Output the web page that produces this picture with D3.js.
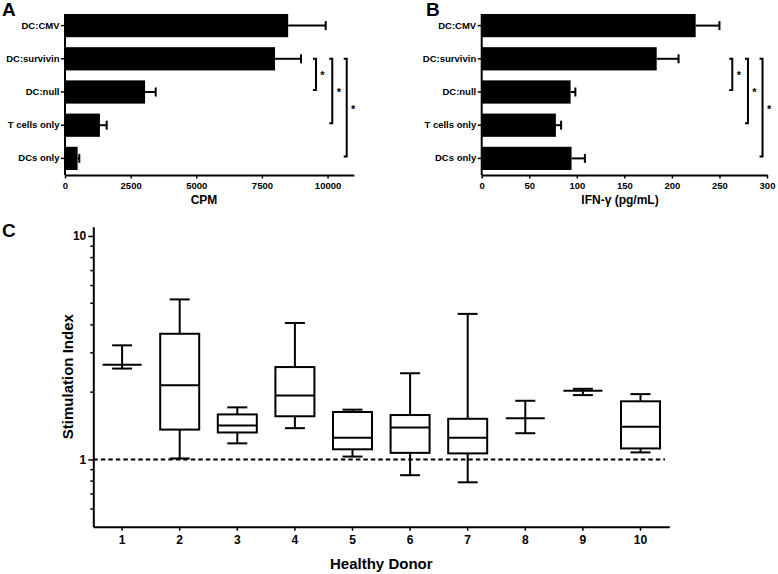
<!DOCTYPE html>
<html><head><meta charset="utf-8">
<script src="https://cdn.jsdelivr.net/npm/d3@7"></script>
<style>
body{margin:0;background:#fff}
text{font-family:"Liberation Sans",Arial,Helvetica,sans-serif;font-weight:bold;fill:#000}
</style>
</head><body>
<svg id="chart" width="778" height="574"></svg>
<script>
// ---------- Data ----------
const groups = ["DC:CMV", "DC:survivin", "DC:null", "T cells only", "DCs only"];
const cpmMean = [8500, 8000, 3050, 1330, 480];
const cpmSem = [1430, 990, 405, 258, 65];
const ifnMean = [225, 184, 93.5, 78, 94.5];
const ifnSem = [25, 23, 5, 5.5, 14];
const cpmTicks = [0, 2500, 5000, 7500, 10000];
const ifnTicks = [0, 50, 100, 150, 200, 250, 300];
// significance comparisons: from DC:survivin to each target
const sigTargets = ["DC:null", "T cells only", "DCs only"];

const donors = [1, 2, 3, 4, 5, 6, 7, 8, 9, 10];
const siMin    = [2.55, 1.01, 1.18, 1.38, 1.03, 0.85, 0.79, 1.31, 1.94, 1.075];
const siQ1     = [2.65, 1.36, 1.32, 1.56, 1.11, 1.07, 1.064, 1.53, 2.03, 1.12];
const siMedian = [2.65, 2.15, 1.42, 1.93, 1.25, 1.39, 1.25, 1.53, 2.03, 1.40];
const siQ3     = [2.65, 3.65, 1.59, 2.59, 1.63, 1.58, 1.52, 1.53, 2.03, 1.82];
const siMax    = [3.24, 5.2, 1.71, 4.08, 1.67, 2.43, 4.48, 1.83, 2.07, 1.96];
const siMajorTicks = [1, 10];
const siMinorTicks = [0.6, 0.7, 0.8, 0.9, 2, 3, 4, 5, 6, 7, 8, 9];

const svg = d3.select("#chart");
const LW = 2;

function styleAxis(g) {
  g.selectAll("path.domain").attr("stroke", "#000").attr("stroke-width", LW);
  g.selectAll(".tick line").attr("stroke", "#000").attr("stroke-width", 1.5);
  g.selectAll(".tick text").attr("fill", "#000");
}

// ---------- Bar panels ----------
function barPanel(opts) {
  const {x0, x1, domainMax, ticks, means, sems, title, titleX, letter, letterX, bracketVals} = opts;
  const y = d3.scaleBand().domain(groups).range([9, 175]).paddingInner(0.3).paddingOuter(0.15);
  const x = d3.scaleLinear().domain([0, domainMax]).range([x0, x1]);
  const g = svg.append("g");

  // bars
  g.selectAll("rect.bar").data(groups).join("rect")
    .attr("x", x(0)).attr("y", d => y(d))
    .attr("width", (d, i) => x(means[i]) - x(0))
    .attr("height", y.bandwidth()).attr("fill", "#000");

  // error bars
  const eb = g.selectAll("g.eb").data(groups).join("g");
  eb.append("line")
    .attr("x1", (d, i) => x(means[i])).attr("x2", (d, i) => x(means[i] + sems[i]))
    .attr("y1", d => y(d) + y.bandwidth() / 2).attr("y2", d => y(d) + y.bandwidth() / 2)
    .attr("stroke", "#000").attr("stroke-width", LW);
  eb.append("line")
    .attr("x1", (d, i) => x(means[i] + sems[i])).attr("x2", (d, i) => x(means[i] + sems[i]))
    .attr("y1", d => y(d) + y.bandwidth() / 2 - 4.5).attr("y2", d => y(d) + y.bandwidth() / 2 + 4.5)
    .attr("stroke", "#000").attr("stroke-width", LW);

  // x axis
  const xa = g.append("g").attr("transform", "translate(0,175)")
    .call(d3.axisBottom(x).tickValues(ticks).tickSize(3.5).tickSizeOuter(0).tickPadding(4).tickFormat(d3.format("d")));
  xa.selectAll("text").style("font-size", "9.5px");
  styleAxis(xa);

  // y axis
  const ya = g.append("g").attr("transform", `translate(${x0},0)`)
    .call(d3.axisLeft(y).tickSize(4).tickSizeOuter(0).tickPadding(1.5));
  ya.select("path.domain").attr("d", "M0,14V175");
  ya.selectAll("text").style("font-size", "9.5px");
  styleAxis(ya);

  // axis title
  g.append("text").attr("x", titleX).attr("y", 204).attr("text-anchor", "middle")
    .style("font-size", "12px").text(title);
  // panel letter
  svg.append("text").attr("x", letterX).attr("y", 15.5).style("font-size", "19px").text(letter);

  // significance brackets
  const yc = d => y(d) + y.bandwidth() / 2;
  sigTargets.forEach((t, i) => {
    const bx = x(bracketVals[i]);
    const yTop = yc("DC:survivin");
    const yBot = yc(t) - 2;
    g.append("path")
      .attr("d", `M${bx - 3},${yTop}H${bx}V${yBot}H${bx - 3}`)
      .attr("fill", "none").attr("stroke", "#000").attr("stroke-width", LW);
    g.append("text").attr("x", bx + 6.5).attr("y", (yTop + yBot) / 2 + 5)
      .attr("text-anchor", "middle").style("font-size", "11px").text("*");
  });
}

barPanel({x0: 65, x1: 353.8, domainMax: 11000, ticks: cpmTicks, means: cpmMean, sems: cpmSem,
  title: "CPM", titleX: 204, letter: "A", letterX: 2, bracketVals: [9560, 10180, 10730]});
barPanel({x0: 481.7, x1: 767, domainMax: 300, ticks: ifnTicks, means: ifnMean, sems: ifnSem,
  title: "IFN-γ (pg/mL)", titleX: 620, letter: "B", letterX: 426, bracketVals: [263.5, 280, 295.3]});

// ---------- Panel C: box plots ----------
const cx = d3.scaleBand().domain(donors).range([93.3, 669.3]).padding(0);
const cy = d3.scaleLog().domain([0.5, 11]).range([526.7, 226.7]);
const gc = svg.append("g");
const boxW = 39, capW = 20;

// dashed reference line at 1
gc.append("line").attr("x1", 93.3).attr("x2", 665).attr("y1", cy(1)).attr("y2", cy(1))
  .attr("stroke", "#000").attr("stroke-width", LW).attr("stroke-dasharray", "4.5,3");

const boxes = gc.selectAll("g.box").data(donors).join("g");
const ctr = d => cx(d) + cx.bandwidth() / 2;
boxes.each(function (d, i) {
  const b = d3.select(this);
  const c = ctr(d);
  const st = s => s.attr("stroke", "#000").attr("stroke-width", LW).attr("fill", "none");
  // whiskers
  b.append("line").attr("x1", c).attr("x2", c).attr("y1", cy(siQ3[i])).attr("y2", cy(siMax[i])).call(st);
  b.append("line").attr("x1", c).attr("x2", c).attr("y1", cy(siQ1[i])).attr("y2", cy(siMin[i])).call(st);
  b.append("line").attr("x1", c - capW / 2).attr("x2", c + capW / 2).attr("y1", cy(siMax[i])).attr("y2", cy(siMax[i])).call(st);
  b.append("line").attr("x1", c - capW / 2).attr("x2", c + capW / 2).attr("y1", cy(siMin[i])).attr("y2", cy(siMin[i])).call(st);
  // box
  b.append("rect").attr("x", c - boxW / 2).attr("width", boxW)
    .attr("y", cy(siQ3[i])).attr("height", cy(siQ1[i]) - cy(siQ3[i]))
    .attr("stroke", "#000").attr("stroke-width", LW).attr("fill", "#fff");
  // median
  b.append("line").attr("x1", c - boxW / 2).attr("x2", c + boxW / 2)
    .attr("y1", cy(siMedian[i])).attr("y2", cy(siMedian[i])).call(st);
});

// axes
const cxa = gc.append("g").attr("transform", "translate(0,526.7)")
  .call(d3.axisBottom(cx).tickSize(4).tickSizeOuter(0).tickPadding(5));
cxa.selectAll("text").style("font-size", "12px");
styleAxis(cxa);

const cya = gc.append("g").attr("transform", "translate(93.3,0)")
  .call(d3.axisLeft(cy).tickValues(siMajorTicks).tickSize(5).tickSizeOuter(0).tickPadding(2).tickFormat(d3.format("d")));
cya.selectAll("text").style("font-size", "12px");
styleAxis(cya);
cya.selectAll(".minor").data(siMinorTicks).join("line").attr("class", "minor")
  .attr("x1", -3).attr("x2", 0).attr("y1", d => cy(d)).attr("y2", d => cy(d))
  .attr("stroke", "#000").attr("stroke-width", 1.5);

gc.append("text").attr("x", 381.3).attr("y", 569).attr("text-anchor", "middle")
  .style("font-size", "15px").text("Healthy Donor");
gc.append("text").attr("transform", "translate(73,376.7) rotate(-90)").attr("text-anchor", "middle")
  .style("font-size", "15px").text("Stimulation  Index");
svg.append("text").attr("x", 2).attr("y", 237).style("font-size", "19px").text("C");
</script>
</body></html>
